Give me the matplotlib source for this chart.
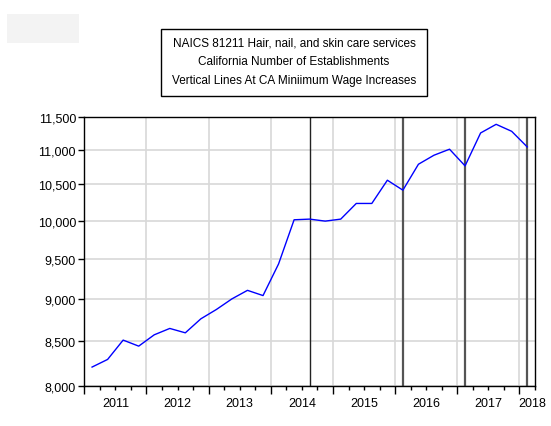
import matplotlib
matplotlib.use("Agg")
import matplotlib.pyplot as plt
import matplotlib.ticker as mticker
import matplotlib.transforms as mtransforms
from matplotlib.patches import Rectangle
import numpy as np

plt.rcParams['font.family'] = ['Liberation Sans', 'DejaVu Sans']

start_year = 2011
values = [8207, 8292, 8511, 8442, 8572, 8646, 8595, 8759, 8870, 8998,
          9102, 9038, 9432, 10011, 10020, 9993, 10020, 10234, 10234, 10560,
          10419, 10790, 10922, 11011, 10766, 11255, 11387, 11280, 11045]
wage_increase_quarters = ["2014Q3", "2016Q1", "2017Q1", "2018Q1"]
year_labels = ["2011", "2012", "2013", "2014", "2015", "2016", "2017", "2018"]
y_ticks = [8000, 8500, 9000, 9500, 10000, 10500, 11000, 11500]
title_lines = ["NAICS 81211 Hair, nail, and skin care services",
               "California Number of Establishments",
               "Vertical Lines At CA Miniimum Wage Increases"]

def q2x(q):
    y, qq = q.split("Q")
    return int(y) + (int(qq) - 1) * 0.25 + 0.125

x = np.array([start_year + i * 0.25 + 0.125 for i in range(len(values))])

W, H = 551, 427
fig = plt.figure(figsize=(W/100, H/100), dpi=100)
fig.patches.append(Rectangle((7/W, 1-44/H), 72/W, 29/H, transform=fig.transFigure,
                             facecolor="#f3f3f3", edgecolor="none"))
ax = fig.add_axes([84.3/W, 1-387/H, (535-84.3)/W, (387-118)/H])
ax.set_yscale("log")
ax.set_ylim(8000, 11500)
ax.set_xlim(2011, 2018.25)

ax.yaxis.set_major_locator(mticker.FixedLocator(y_ticks))
ax.yaxis.set_minor_locator(mticker.NullLocator())
ax.yaxis.set_major_formatter(mticker.FuncFormatter(lambda v, p: f"{v:,.0f}"))
ax.xaxis.set_major_locator(mticker.FixedLocator(range(2011, 2019)))
ax.xaxis.set_minor_locator(mticker.FixedLocator(np.arange(2011, 2018.26, 0.25)))
ax.xaxis.set_major_formatter(mticker.NullFormatter())

ax.grid(True, which="major", color="#d8d8d8", lw=1.2)
ax.set_axisbelow(True)
ax.tick_params(axis="x", which="major", length=6, width=1, direction="out", top=False)
ax.tick_params(axis="x", which="minor", length=3, width=1, direction="out", top=False)
ax.tick_params(axis="y", which="major", length=4, width=1, direction="out", right=False,
               labelsize=9, pad=2)
for s in ax.spines.values():
    s.set_linewidth(1.0)

trans = mtransforms.blended_transform_factory(ax.transData, ax.transAxes)
for i, lab in enumerate(year_labels):
    xc = start_year + i + 0.5 if i < len(year_labels) - 1 else 2018.2
    ax.text(xc, -0.04, lab, transform=trans, ha="center", va="top", fontsize=9)

for i, q in enumerate(wage_increase_quarters):
    ax.axvline(q2x(q), color="#222222" if i == 0 else "#555555", lw=1.0 if i == 0 else 1.6, zorder=2)

ax.plot(x, values, color="#0000ff", lw=1.0, zorder=3)

fig.patches.append(Rectangle((161/W, 1-97/H), 266/W, 67/H, transform=fig.transFigure,
                             facecolor="white", edgecolor="black", lw=1))
for i, line in enumerate(title_lines):
    fig.text(294/W, 1-(43 + 19*i)/H, line, ha="center", va="center", fontsize=8.5)

fig.savefig("out.png", dpi=100)
